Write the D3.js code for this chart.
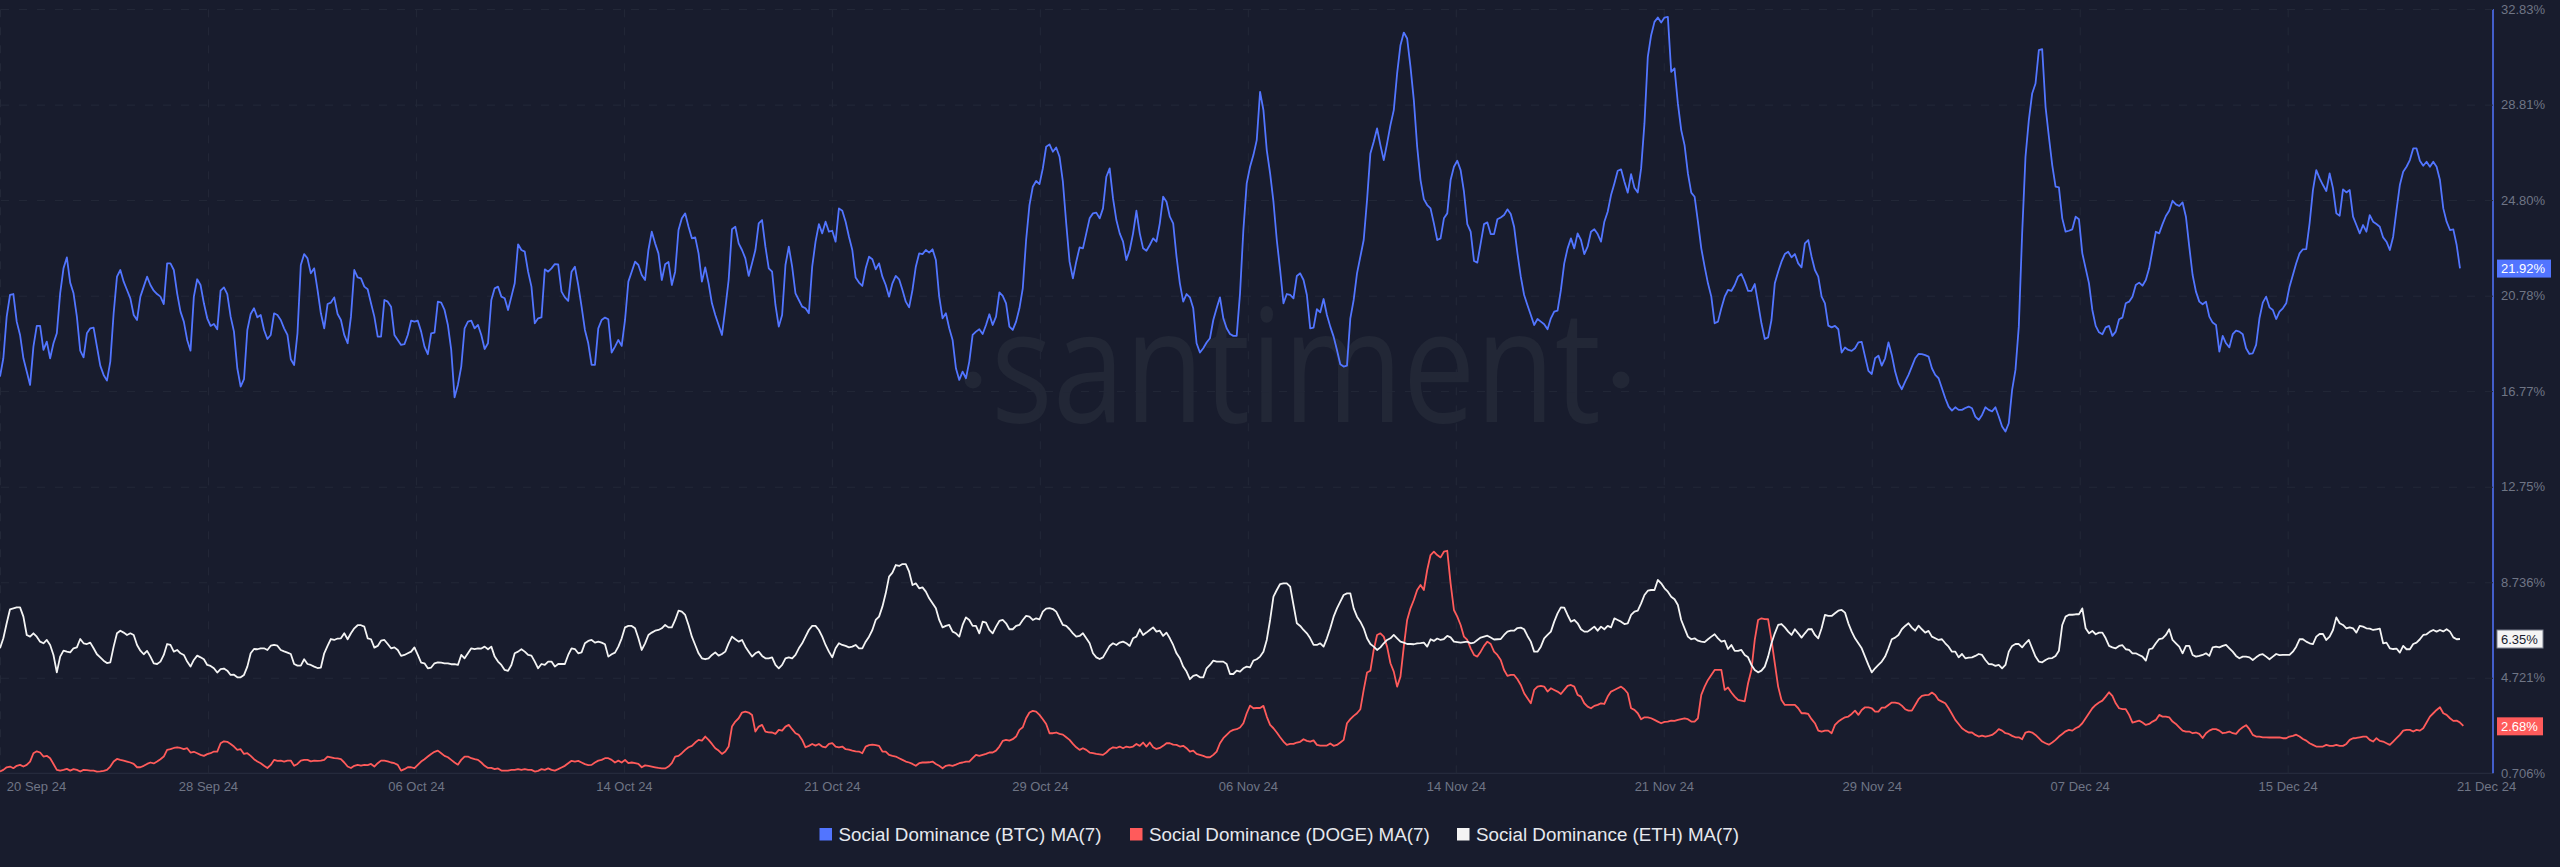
<!DOCTYPE html>
<html>
<head>
<meta charset="utf-8">
<style>
  html, body { margin: 0; padding: 0; background: #181c2d; overflow: hidden; }
  text { font-family: "Liberation Sans", Arial, sans-serif; }
</style>
<script src="https://d3js.org/d3.v7.min.js"></script>
</head>
<body>
<div id="container"></div>
<script>

// Values in percent, one reading every 3 hours from the first date.

var firstDate = '2024-09-20T16:00:00Z',
		lastDate = '2024-12-21T16:00:00Z',
		stepHours = 3;

var tickDates = ['2024-09-20T16:00:00Z', '2024-09-28T10:40:00Z', '2024-10-06T05:20:00Z', '2024-10-14T00:00:00Z',
		'2024-10-21T18:40:00Z', '2024-10-29T13:20:00Z', '2024-11-06T08:00:00Z', '2024-11-14T02:40:00Z',
		'2024-11-21T21:20:00Z', '2024-11-29T16:00:00Z', '2024-12-07T10:40:00Z', '2024-12-15T05:20:00Z',
		'2024-12-21T16:00:00Z'];

var valueTicks = [0.706, 4.721, 8.736, 12.75, 16.77, 20.78, 24.80, 28.81, 32.83];

var seriesNames = ['Social Dominance (BTC) MA(7)', 'Social Dominance (DOGE) MA(7)', 'Social Dominance (ETH) MA(7)'];

var latestValues = [21.92, 2.68, 6.35];

var btcValues = [
17.38,18.15,19.90,20.81,20.85,19.69,19.13,18.15,17.59,17.03,18.64,19.51,19.51,18.50,18.85,18.15,18.78,19.20,20.88,21.93,
22.39,21.33,20.88,19.90,18.47,18.19,19.20,19.41,19.44,18.64,17.84,17.45,17.21,18.01,20.04,21.58,21.86,21.37,21.02,20.67,
19.97,19.76,20.74,21.16,21.58,21.23,20.99,20.85,20.74,20.43,22.14,22.14,21.86,20.88,20.11,19.69,18.92,18.47,20.74,21.47,
21.23,20.46,19.83,19.51,19.59,19.37,20.99,21.13,20.85,19.90,19.27,17.73,16.96,17.27,19.34,20.01,20.25,19.87,19.97,19.34,
18.96,19.13,20.04,19.97,19.76,19.41,19.13,18.11,17.87,19.20,22.07,22.53,22.35,21.72,21.93,21.02,20.04,19.41,20.43,20.49,
20.71,20.01,19.76,19.13,18.78,19.90,21.86,21.55,21.51,21.16,21.05,20.46,19.90,19.06,19.06,20.60,20.53,20.32,19.13,18.92,
18.71,18.74,19.13,19.73,19.69,19.73,19.27,18.64,18.32,19.20,19.23,20.53,20.49,20.18,19.55,18.50,16.51,17.03,17.80,19.41,
19.69,19.73,19.41,19.55,19.13,18.54,18.78,20.60,21.09,21.16,20.74,20.67,20.18,20.74,21.30,22.94,22.70,22.63,21.79,21.16,
19.62,19.83,19.87,21.89,21.79,21.93,22.11,22.10,20.95,20.71,20.56,21.79,22.00,21.23,20.32,19.34,18.78,17.87,17.87,19.41,
19.76,19.86,19.79,18.39,18.64,18.92,18.67,19.76,21.37,21.79,22.21,22.07,21.65,21.44,22.70,23.47,22.98,22.56,21.44,22.10,
22.20,21.23,21.79,23.54,24.03,24.24,23.68,23.19,23.23,22.56,21.37,21.97,21.30,20.46,19.97,19.55,19.13,20.25,21.44,23.57,
23.68,22.98,22.70,22.35,21.61,22.14,22.70,23.82,23.96,22.84,21.93,21.79,20.39,19.48,19.97,22.07,22.84,22.00,20.88,20.60,
20.32,20.25,20.04,22.00,23.05,23.79,23.40,23.89,23.47,23.51,23.05,24.45,24.35,23.89,23.26,22.70,21.54,21.33,
21.19,21.93,22.42,22.31,21.89,22.14,21.58,21.23,20.74,21.30,21.61,21.47,21.02,20.53,20.29,21.02,22.00,22.56,22.53,22.70,
22.59,22.73,22.28,20.74,19.83,20.04,19.41,18.92,17.73,17.24,17.59,17.31,18.01,19.13,19.27,19.37,19.17,19.55,20.00,19.55,
19.90,20.92,20.77,20.46,19.48,19.34,19.69,20.25,21.09,23.12,24.59,25.36,25.60,25.47,26.13,27.04,27.14,26.83,27.01,26.62,
25.57,23.82,22.21,21.51,22.21,22.81,22.77,23.40,24.03,24.24,24.27,24.03,24.45,25.78,26.13,24.87,23.96,23.40,23.05,22.28,
22.70,23.40,24.35,23.40,22.77,22.67,22.91,23.19,23.05,23.82,24.94,24.73,24.10,23.82,22.42,21.30,20.53,20.85,20.71,20.25,
18.78,18.39,18.57,18.81,18.99,19.76,20.25,20.71,19.83,19.41,19.17,19.09,19.09,20.88,23.54,25.50,26.20,26.69,27.32,29.35,
28.58,26.90,25.92,24.73,23.12,21.86,20.46,20.85,20.81,20.67,21.61,21.72,21.44,20.81,19.41,19.44,20.21,20.08,20.64,19.97,
19.48,19.06,18.50,17.90,17.80,17.84,19.83,20.60,21.72,22.42,23.12,24.80,26.76,27.25,27.81,27.11,26.48,27.18,27.95,28.58,
30.12,31.31,31.84,31.59,30.40,29.00,27.04,25.64,24.84,24.59,24.45,23.82,23.12,23.19,24.03,24.24,25.64,26.20,26.45,26.06,
25.15,23.79,23.47,22.24,22.17,22.98,23.79,23.86,23.37,23.37,23.99,24.07,24.17,24.41,24.21,23.68,22.56,21.58,20.81,20.38,19.97,
19.55,19.80,19.69,19.58,19.37,19.83,20.11,20.15,21.02,22.14,22.77,23.19,22.77,23.40,23.12,22.53,22.84,23.47,23.57,23.37,
23.05,23.89,24.31,25.01,25.50,26.03,26.09,25.57,25.11,25.89,25.32,25.12,26.13,28.02,30.82,31.73,32.29,32.47,32.26,32.47,
32.50,30.19,30.33,28.86,27.74,27.11,25.92,25.11,24.94,23.89,22.77,22.00,21.30,
20.74,19.62,19.69,20.25,20.74,21.02,20.98,21.23,21.58,21.69,21.37,20.98,20.98,21.27,20.46,19.62,18.96,19.03,19.76,21.30,
21.79,22.21,22.53,22.63,22.39,22.53,22.14,21.97,22.98,23.12,22.42,21.86,21.58,20.74,20.46,19.52,19.45,19.51,19.37,18.39,
18.60,18.50,18.46,18.57,18.82,18.84,18.22,17.62,17.49,18.15,18.26,17.84,18.15,18.82,18.29,17.59,17.10,16.85,17.17,17.45,
17.80,18.15,18.33,18.32,18.28,18.22,17.73,17.45,17.31,16.89,16.47,16.12,15.95,16.09,15.98,15.98,16.06,16.12,16.05,15.70,
15.56,15.77,16.09,15.98,15.92,16.09,15.70,15.28,15.07,15.42,16.82,17.66,19.48,23.40,26.62,28.16,29.28,29.70,31.10,31.14,
28.72,27.46,26.27,25.36,25.33,24.03,23.47,23.51,23.57,24.10,23.99,22.56,21.93,21.30,20.18,19.51,19.24,19.16,19.45,19.51,
19.09,19.27,19.79,19.86,20.46,20.53,20.74,21.23,21.33,21.20,21.44,21.93,22.70,23.47,23.40,23.79,24.13,24.35,24.77,24.62,
24.55,24.70,24.10,22.84,21.65,20.95,20.53,20.42,20.53,19.90,19.65,19.55,18.43,19.09,18.78,18.61,19.16,19.31,19.27,19.16,
18.57,18.33,18.36,18.71,19.83,20.49,20.74,20.29,20.18,19.80,20.11,20.25,20.46,21.16,21.65,22.14,22.56,22.73,22.74,23.82,
25.22,26.06,25.71,25.43,25.18,25.92,25.29,24.24,24.14,25.25,25.12,25.22,24.10,23.75,23.40,23.75,23.47,24.17,23.89,23.79,23.68,
23.23,23.05,22.70,23.26,24.38,25.43,25.99,26.20,26.48,26.97,26.97,26.45,26.24,26.41,26.20,26.41,26.20,25.64,24.45,23.89,
23.54,23.57,22.91,21.93];

var dogeValues = [
0.78,0.85,0.96,0.99,0.92,1.02,1.06,0.99,1.06,1.20,1.55,1.63,1.58,1.41,1.44,1.34,1.10,0.85,0.82,0.85,
0.89,0.82,0.88,0.85,0.78,0.85,0.84,0.82,0.82,0.78,0.79,0.81,0.85,0.99,1.20,1.31,1.27,1.24,1.20,1.16,
1.10,0.96,0.96,1.02,1.10,1.16,1.12,1.20,1.30,1.41,1.69,1.72,1.77,1.80,1.77,1.72,1.76,1.58,1.61,1.55,
1.48,1.44,1.51,1.55,1.62,1.62,1.97,2.05,2.03,1.94,1.83,1.69,1.72,1.52,1.55,1.44,1.30,1.20,1.13,1.02,
0.93,1.06,1.27,1.23,1.24,1.20,1.24,1.24,1.02,1.10,1.24,1.27,1.27,1.21,1.24,1.23,1.24,1.27,1.41,1.38,
1.34,1.33,1.30,1.16,0.99,0.93,1.02,1.06,1.03,1.06,1.05,1.10,0.99,1.13,1.24,1.24,1.21,1.16,1.13,1.06,
0.82,0.88,0.96,0.96,0.92,1.06,1.20,1.30,1.41,1.52,1.61,1.66,1.55,1.44,1.38,1.27,1.16,1.07,1.27,1.41,
1.41,1.34,1.30,1.27,1.16,1.02,0.93,0.93,0.88,0.91,0.82,0.82,0.82,0.85,0.85,0.88,0.85,0.88,0.85,0.85,
0.78,0.81,0.88,0.85,0.91,0.85,0.82,0.88,0.95,1.02,1.13,1.23,1.20,1.23,1.16,1.09,1.05,1.06,1.16,1.24,
1.27,1.34,1.34,1.27,1.16,1.24,1.16,1.27,1.13,1.16,1.13,1.10,0.96,1.04,1.02,0.99,0.96,0.93,0.91,0.91,
0.99,1.13,1.41,1.44,1.55,1.69,1.80,1.86,2.00,2.11,2.08,2.25,2.11,1.94,1.76,1.66,1.52,1.62,1.83,2.67,
2.88,3.02,3.26,3.30,3.26,3.16,2.46,2.67,2.74,2.46,2.43,2.42,2.36,2.53,2.50,2.67,2.74,2.56,2.39,2.32,
2.11,1.80,1.86,1.94,1.87,1.94,1.83,1.80,1.94,1.97,1.83,1.80,1.83,1.72,1.70,1.66,1.63,
1.62,1.55,1.83,1.89,1.91,1.89,1.86,1.62,1.62,1.48,1.44,1.41,1.34,1.27,1.20,1.16,1.10,1.02,1.13,1.16,
1.16,1.17,1.20,1.10,1.02,0.92,1.02,1.05,1.02,1.07,1.13,1.16,1.20,1.20,1.34,1.48,1.44,1.48,1.52,1.58,
1.58,1.66,1.83,2.07,2.11,2.08,2.14,2.25,2.53,2.64,3.02,3.26,3.33,3.30,3.16,2.98,2.78,2.39,2.39,2.42,
2.36,2.33,2.22,2.11,1.94,1.80,1.69,1.76,1.69,1.58,1.55,1.52,1.50,1.48,1.58,1.72,1.80,1.77,1.83,1.76,
1.83,1.80,1.83,1.94,1.86,2.00,1.83,2.00,1.80,1.73,1.77,1.86,1.97,1.97,1.91,1.90,1.83,1.86,1.76,1.62,
1.66,1.52,1.48,1.44,1.38,1.38,1.48,1.62,1.97,2.18,2.32,2.46,2.53,2.56,2.63,2.81,3.23,3.55,3.44,3.45,
3.45,3.54,3.09,2.74,2.60,2.42,2.22,2.04,1.90,1.94,1.94,2.00,2.03,2.14,2.07,2.04,2.09,1.90,1.87,1.87,
1.87,1.96,1.86,1.90,2.00,2.11,2.81,2.98,3.12,3.23,3.40,4.21,4.94,5.02,5.89,6.52,6.59,6.45,6.03,5.33,
4.98,4.35,4.77,6.03,7.15,7.64,7.99,8.41,8.62,8.41,9.25,9.88,10.02,9.88,9.78,10.02,10.06,8.69,7.57,7.29,
6.94,6.45,6.31,5.96,5.68,5.61,5.82,6.06,6.24,6.14,5.82,5.68,5.47,5.05,4.80,4.84,4.84,4.66,4.42,4.07,
3.86,3.65,4.21,4.35,4.38,4.35,4.14,4.28,4.21,4.14,4.04,4.21,4.38,4.42,4.35,4.00,3.93,3.65,3.51,3.44,
3.54,3.58,3.65,3.62,3.93,4.14,4.21,4.28,4.35,4.24,4.07,3.44,3.37,3.23,2.98,3.06,3.06,3.02,2.95,2.88,
2.81,2.87,2.88,2.92,2.91,2.95,2.98,3.01,2.98,2.88,2.88,3.02,4.00,4.35,4.63,
4.84,5.05,5.05,5.05,4.21,4.31,4.10,3.93,3.79,3.76,3.73,4.49,5.05,6.31,7.15,7.22,7.19,7.18,6.31,5.33,
4.35,3.79,3.58,3.58,3.58,3.58,3.44,3.23,3.23,3.20,2.98,2.81,2.50,2.46,2.50,2.50,2.39,2.74,2.88,2.98,
3.06,3.09,3.20,3.34,3.16,3.37,3.48,3.48,3.44,3.30,3.30,3.47,3.47,3.58,3.68,3.68,3.65,3.55,3.40,3.34,
3.34,3.58,3.82,3.96,3.99,4.00,4.10,4.00,3.79,3.72,3.65,3.44,3.20,2.95,2.78,2.60,2.50,2.42,2.42,2.32,
2.25,2.29,2.25,2.28,2.32,2.42,2.56,2.50,2.39,2.36,2.28,2.22,2.22,2.14,2.42,2.46,2.42,2.32,2.18,2.04,
1.97,1.91,2.00,2.11,2.25,2.36,2.47,2.53,2.50,2.60,2.67,2.81,3.02,3.23,3.44,3.58,3.68,3.76,3.93,4.11,
3.96,3.65,3.44,3.40,3.40,3.16,2.84,2.88,2.92,2.84,2.74,2.78,2.88,2.95,3.16,3.09,3.09,3.06,2.88,2.78,
2.64,2.50,2.46,2.46,2.39,2.42,2.36,2.19,2.39,2.50,2.56,2.56,2.50,2.39,2.42,2.46,2.39,2.36,2.53,2.64,
2.73,2.56,2.32,2.25,2.25,2.22,2.22,2.21,2.22,2.21,2.22,2.18,2.18,2.25,2.28,2.33,2.25,2.15,2.08,1.97,
1.90,1.83,1.83,1.83,1.90,1.86,1.86,1.90,1.86,1.86,1.94,2.11,2.18,2.19,2.22,2.25,2.25,2.11,2.04,2.18,
2.07,2.04,1.97,1.90,2.04,2.18,2.32,2.50,2.53,2.53,2.46,2.53,2.50,2.60,2.84,3.09,3.23,3.37,3.48,3.23,
3.16,3.02,2.91,2.92,2.84,2.70];

var ethValues = [
5.96,6.38,7.01,7.60,7.64,7.68,7.68,7.29,6.52,6.45,6.59,6.45,6.24,6.17,6.31,6.10,5.68,4.95,5.61,5.86,
5.82,5.79,5.96,6.00,6.35,6.17,6.14,6.20,5.96,5.71,5.58,5.44,5.34,5.37,6.03,6.59,6.70,6.62,6.52,6.59,
6.52,6.10,5.86,5.71,5.85,5.61,5.33,5.30,5.40,5.68,6.14,6.10,5.82,5.89,5.75,5.68,5.40,5.19,5.47,5.65,
5.58,5.50,5.26,5.22,5.12,4.94,5.08,5.11,5.02,4.84,4.85,4.74,4.74,4.84,5.19,5.75,5.93,5.92,5.96,5.96,
5.89,6.07,6.10,6.07,5.89,5.83,5.78,5.72,5.30,5.23,5.23,5.50,5.30,5.26,5.19,5.13,5.15,5.75,6.06,6.35,
6.31,6.37,6.38,6.59,6.34,6.59,6.80,6.93,6.93,6.87,6.38,6.34,5.99,6.06,6.28,6.31,6.14,5.96,6.00,5.89,
5.64,5.68,5.75,5.82,6.00,5.68,5.36,5.33,5.12,5.15,5.33,5.37,5.36,5.33,5.33,5.29,5.29,5.26,5.68,5.54,
5.75,5.96,5.93,5.96,5.95,6.03,5.92,6.03,5.61,5.40,5.26,5.05,5.01,5.26,5.75,5.82,5.92,5.82,5.68,5.65,
5.40,5.12,5.30,5.26,5.40,5.40,5.19,5.30,5.30,5.30,5.68,5.96,5.93,5.75,5.79,6.17,6.27,6.31,6.20,6.24,
6.20,6.13,5.61,5.71,5.78,6.03,6.38,6.84,6.90,6.90,6.80,6.38,5.89,6.17,6.52,6.62,6.70,6.73,6.80,6.94,
6.84,6.84,7.15,7.54,7.50,7.36,6.94,6.45,6.10,5.75,5.54,5.50,5.54,5.68,5.79,5.65,5.72,5.82,6.17,6.45,
6.34,6.24,6.31,6.03,5.82,5.61,5.75,5.82,5.64,5.54,5.54,5.58,5.26,5.12,5.26,5.54,5.58,5.54,5.68,5.96,
6.17,6.45,6.73,6.90,6.90,6.73,6.45,6.10,5.82,5.58,5.96,6.17,6.10,6.06,6.00,6.03,6.10,
5.96,5.96,6.24,6.45,6.73,7.15,7.29,7.71,8.27,8.97,9.14,9.46,9.42,9.50,9.50,9.18,8.62,8.69,8.48,8.52,
8.34,8.06,7.85,7.64,7.15,6.84,6.90,6.94,6.66,6.59,6.45,6.94,7.26,7.15,6.90,6.90,6.59,7.08,7.04,6.73,
6.59,6.87,7.11,7.15,7.01,6.76,6.76,6.90,6.94,7.15,7.32,7.29,7.15,7.22,7.18,7.50,7.63,7.65,7.61,7.50,
7.22,6.94,6.90,6.76,6.59,6.45,6.48,6.59,6.38,6.17,5.75,5.58,5.51,5.58,5.82,6.06,6.17,6.10,6.20,6.24,
6.17,6.06,6.38,6.45,6.76,6.52,6.62,6.73,6.84,6.66,6.70,6.48,6.62,6.38,6.10,5.75,5.54,5.19,4.98,4.66,
4.80,4.84,4.74,4.74,5.12,5.26,5.44,5.40,5.40,5.40,5.30,4.88,4.88,5.02,4.98,5.12,5.19,5.16,5.44,5.50,
5.61,5.82,6.31,7.15,8.13,8.41,8.66,8.69,8.69,8.55,7.78,7.01,6.90,6.73,6.59,6.38,6.10,6.10,6.17,6.03,
6.38,6.80,7.29,7.64,7.92,8.20,8.27,8.27,7.64,7.29,7.08,6.80,6.38,6.14,6.03,5.89,6.00,6.17,6.31,6.38,
6.52,6.38,6.24,6.20,6.14,6.14,6.13,6.17,6.18,6.20,6.03,6.34,6.27,6.37,6.31,6.35,6.48,6.42,6.24,
6.22,6.20,6.22,6.24,6.17,6.20,6.31,6.41,6.45,6.49,6.41,6.33,6.34,6.35,6.52,6.66,6.70,6.70,6.81,6.83,
6.76,6.48,6.24,5.82,5.82,6.03,6.38,6.52,6.66,7.08,7.43,7.68,7.67,7.36,7.08,7.15,7.01,6.76,6.66,6.66,
6.76,6.87,6.70,6.87,6.76,6.90,6.84,7.22,7.15,7.08,6.98,7.01,7.36,7.50,7.54,7.85,8.20,8.38,8.41,8.41,
8.83,8.69,8.48,8.34,8.13,8.02,7.78,7.15,6.80,6.45,6.34,6.38,6.28,6.24,6.22,6.34,
6.45,6.55,6.38,6.24,6.28,5.93,6.10,5.85,5.85,5.89,5.68,5.58,5.26,5.05,4.95,5.02,5.19,5.61,6.17,
6.59,6.94,6.98,6.84,6.66,6.52,6.76,6.59,6.41,6.59,6.76,6.77,6.52,6.38,6.80,7.36,7.32,7.32,7.43,7.54,
7.57,7.46,7.01,6.66,6.38,6.17,5.96,5.61,5.26,4.95,5.12,5.26,5.40,5.61,5.96,6.34,6.41,6.52,6.76,6.90,
7.01,6.83,6.70,6.91,6.76,6.62,6.69,6.45,6.38,6.31,6.34,6.17,6.03,5.82,5.82,5.58,5.72,5.54,5.57,5.58,
5.64,5.72,5.68,5.47,5.30,5.29,5.22,5.26,5.12,5.26,5.82,6.06,6.14,6.14,6.00,6.17,6.31,5.96,5.61,5.40,
5.37,5.47,5.54,5.55,5.64,5.86,6.94,7.29,7.37,7.37,7.39,7.39,7.64,6.80,6.59,6.69,6.55,6.62,6.62,6.38,
6.06,6.00,5.96,6.06,6.09,5.92,5.89,5.75,5.75,5.68,5.61,5.44,5.92,5.96,6.17,6.35,6.38,6.52,6.76,6.31,
6.17,6.03,5.75,6.06,6.06,5.68,5.61,5.64,5.68,5.75,5.64,6.00,6.03,6.00,6.06,6.10,5.96,5.82,5.64,5.54,
5.61,5.61,5.58,5.47,5.58,5.68,5.71,5.61,5.50,5.61,5.72,5.67,5.68,5.68,5.68,5.82,6.03,6.34,6.34,6.24,
6.17,6.14,6.45,6.56,6.56,6.31,6.45,6.73,7.26,7.01,6.94,6.80,6.84,6.80,6.62,6.90,6.87,6.80,6.79,6.73,
6.76,6.79,6.17,6.20,5.96,5.93,5.95,5.78,6.06,5.92,5.92,6.14,6.20,6.34,6.52,6.55,6.66,6.73,6.66,6.73,
6.67,6.76,6.66,6.42,6.34,6.35];

// Set the page up.

var width = 2560,
		height = 867,
		plotRight = 2493,
		plotTop = 9,
		plotBottom = 773.3,
		lineEnd = 2460;

var colors = ['#5275ff', '#ff5b5b', '#f4f4f4'];

var svg = d3.select('#container').append('svg')
		.attr('width', width)
		.attr('height', height)
		.style('display', 'block')
		.style('background', '#181c2d');

var parseDate = d3.utcParse('%Y-%m-%dT%H:%M:%SZ');

var x = d3.scaleUtc()
		.domain([parseDate(firstDate), parseDate(lastDate)])
		.range([0, lineEnd]);

var y = d3.scaleLinear()
		.domain([0.706, 32.83])
		.range([plotBottom, plotTop]);

function pointDate(i) {
	return new Date(x.domain()[0].getTime() + i * stepHours * 3600 * 1000);
}


// Watermark.

var mark = svg.append('g').attr('fill', '#222736');

mark.append('text')
		.attr('x', 991)
		.attr('y', 422)
		.attr('textLength', 610)
		.attr('lengthAdjust', 'spacingAndGlyphs')
		.style('font-family', '"Open Sans"')
		.style('font-size', '158px')
		.text('santiment');

mark.append('circle').attr('cx', 973).attr('cy', 380).attr('r', 8.5);
mark.append('circle').attr('cx', 1621).attr('cy', 380).attr('r', 8.5);


// Axes and their grid lines.

var xAxis = d3.axisBottom(x)
		.tickValues(tickDates.map(parseDate))
		.tickFormat(d3.utcFormat('%d %b %y'))
		.tickSize(-(plotBottom - plotTop))
		.tickPadding(8);

var xGroup = svg.append('g')
		.attr('transform', 'translate(0,' + plotBottom + ')')
		.call(xAxis);

xGroup.select('.domain').attr('stroke', '#2a2f40').attr('d', 'M0,0H' + plotRight);

xGroup.selectAll('.tick line')
		.attr('stroke', '#232838')
		.attr('stroke-dasharray', '8,10')
		.attr('display', function(d, i) { return i == tickDates.length - 1 ? 'none' : null; });

xGroup.selectAll('.tick text')
		.attr('fill', '#6f7585')
		.attr('dy', '0.71em')
		.attr('dx', function(d, i) {
			if (i == 0) return 36;
			if (i == tickDates.length - 1) return 26;
			return 0;
		})
		.style('font-size', '13px');

function valueLabel(d) {
	return d < 10 ? d.toFixed(3) + '%' : d.toFixed(2) + '%';
}

var yAxis = d3.axisRight(y)
		.tickValues(valueTicks)
		.tickFormat(valueLabel)
		.tickSize(-plotRight)
		.tickPadding(8);

var yGroup = svg.append('g')
		.attr('transform', 'translate(' + plotRight + ',0)')
		.call(yAxis);

yGroup.select('.domain').attr('stroke', '#5275ff').attr('stroke-width', 1.5).attr('d', 'M0,' + plotTop + 'V' + plotBottom);

yGroup.selectAll('.tick line')
		.attr('stroke', '#232838')
		.attr('stroke-dasharray', '8,10')
		.attr('display', function(d) { return d == 0.706 ? 'none' : null; });

yGroup.selectAll('.tick text')
		.attr('fill', '#6f7585')
		.style('font-size', '13px');


// The three lines.

var line = d3.line()
		.x(function(d, i) { return x(pointDate(i)); })
		.y(function(d) { return y(d); });

[btcValues, dogeValues, ethValues].forEach(function(values, k) {
	svg.append('path')
			.attr('d', line(values))
			.attr('fill', 'none')
			.attr('stroke', colors[k])
			.attr('stroke-width', 1.8)
			.attr('stroke-linejoin', 'round');
});


// Latest value badges on the right.

latestValues.forEach(function(v, k) {
	var label = v.toFixed(2) + '%';
	var boxWidth = label.length > 5 ? 54 : 46;
	var g = svg.append('g').attr('transform', 'translate(2497,' + y(v) + ')');
	g.append('rect')
			.attr('x', 0)
			.attr('y', -9)
			.attr('width', boxWidth)
			.attr('height', 18)
			.attr('fill', colors[k])
			.attr('stroke', k == 2 ? '#7d8290' : 'none');
	g.append('text')
			.attr('x', 4)
			.attr('dy', '0.35em')
			.attr('fill', k == 2 ? '#181c2d' : '#ffffff')
			.style('font-size', '13px')
			.text(label);
});


// Legend at the bottom.

var legendX = [819.5, 1130, 1457];

seriesNames.forEach(function(name, k) {
	svg.append('rect')
			.attr('x', legendX[k])
			.attr('y', 828)
			.attr('width', 12.5)
			.attr('height', 12.5)
			.attr('fill', colors[k]);
	svg.append('text')
			.attr('x', legendX[k] + 19)
			.attr('y', 834.5)
			.attr('dy', '0.35em')
			.attr('fill', '#e6e8ee')
			.style('font-size', '18.8px')
			.text(name);
});

</script>
</body>
</html>
